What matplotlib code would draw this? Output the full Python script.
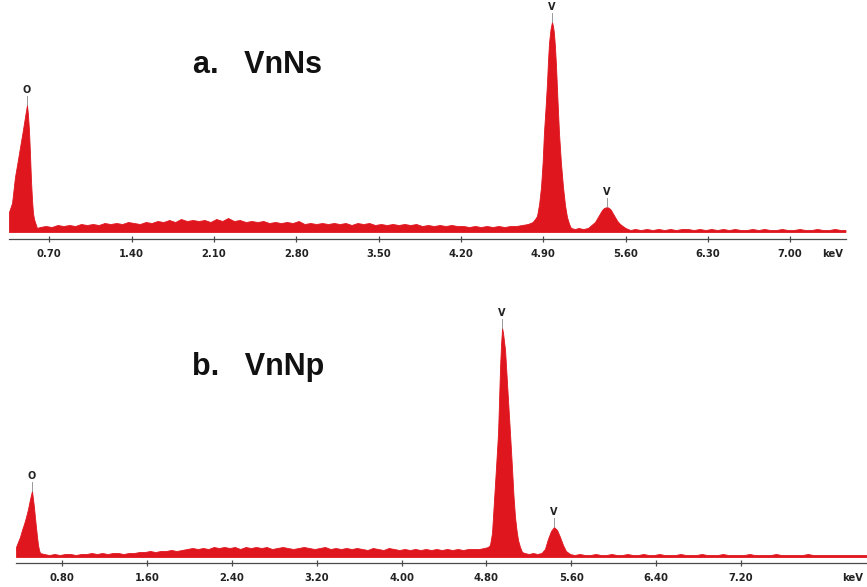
import matplotlib
matplotlib.use("Agg")
import matplotlib.pyplot as plt
from matplotlib import font_manager

# ---------------- spectrum data (energy in keV, counts) ----------------
vnns_energy = [
    0.357, 0.383, 0.408, 0.43, 0.451, 0.47, 0.485, 0.50, 0.510, 0.518, 0.527, 0.535,
    0.544, 0.553, 0.561, 0.570, 0.578, 0.595,
    0.62, 0.67, 0.72, 0.77, 0.82, 0.87, 0.92, 0.97, 1.02, 1.07, 1.12, 1.17, 1.22, 1.27,
    1.32, 1.37, 1.42, 1.47, 1.52, 1.57, 1.62, 1.67, 1.72, 1.77, 1.82, 1.87, 1.92, 1.97,
    2.02, 2.07, 2.12, 2.17, 2.22, 2.27, 2.32, 2.37, 2.42, 2.47, 2.52, 2.57, 2.62, 2.67,
    2.72, 2.77, 2.82, 2.87, 2.92, 2.97, 3.02, 3.07, 3.12, 3.17, 3.22, 3.27, 3.32, 3.37,
    3.42, 3.47, 3.52, 3.57, 3.62, 3.67, 3.72, 3.77, 3.82, 3.87, 3.92, 3.97, 4.02, 4.07,
    4.12, 4.17, 4.22, 4.27, 4.32, 4.37, 4.42, 4.47, 4.52, 4.57, 4.62, 4.67, 4.72, 4.77,
    4.81, 4.83, 4.847, 4.865, 4.881, 4.895, 4.906, 4.92, 4.932, 4.94, 4.949, 4.962,
    4.974, 4.983, 4.991, 5.00, 5.009, 5.02, 5.034, 5.05, 5.068, 5.085, 5.102, 5.12,
    5.136, 5.17, 5.20, 5.24, 5.28,
    5.31, 5.34, 5.36, 5.38, 5.40, 5.417, 5.442, 5.46, 5.476, 5.49, 5.51, 5.53, 5.553,
    5.575, 5.60, 5.62, 5.64,
    5.68, 5.73, 5.78, 5.83, 5.88, 5.93, 5.98, 6.03, 6.08, 6.13, 6.18, 6.23, 6.28, 6.33,
    6.38, 6.43, 6.48, 6.53, 6.58, 6.63, 6.68, 6.73, 6.78, 6.83, 6.88, 6.93, 6.98, 7.03,
    7.08, 7.13, 7.18, 7.23, 7.28, 7.33, 7.38, 7.43, 7.47,
]
vnns_counts = [
    20, 29, 55, 70, 85, 98, 109, 120, 127, 118, 102, 80,
    52, 32, 19, 13, 10, 4,
    5, 6, 5, 7, 6, 7, 6, 8, 7, 8, 7, 9, 8, 9,
    8, 10, 9, 8, 10, 9, 11, 10, 12, 10, 13, 11, 12, 11,
    12, 10, 13, 11, 14, 11, 12, 10, 11, 10, 11, 9, 10, 9,
    10, 9, 11, 8, 9, 8, 9, 8, 9, 8, 9, 7, 9, 8,
    9, 7, 8, 7, 8, 7, 8, 7, 8, 6, 7, 6, 7, 6,
    7, 6, 6, 5, 6, 5, 6, 5, 6, 5, 6, 6, 7, 8,
    10, 13, 16, 28, 45, 70, 99, 125, 149, 170, 189, 203,
    210, 206, 199, 185, 165, 135, 99, 70, 45, 27, 15, 8,
    4, 3, 4, 3, 4,
    7, 10, 14, 18, 22, 24, 25, 24, 22, 19, 15, 11, 8,
    6, 4, 3, 2,
    3, 2, 3, 2, 3, 2, 3, 2, 3, 3, 2, 3, 2, 3,
    2, 3, 2, 3, 2, 2, 3, 2, 3, 2, 2, 3, 2, 2,
    3, 2, 2, 3, 2, 2, 3, 2, 2,
]

vnnp_energy = [
    0.367, 0.385, 0.404, 0.423, 0.442, 0.461, 0.480, 0.499, 0.517, 0.527, 0.536, 0.545,
    0.555, 0.564, 0.574, 0.584, 0.593,
    0.63, 0.68, 0.73, 0.78, 0.83, 0.88, 0.93, 0.98, 1.03, 1.08, 1.13, 1.18, 1.23, 1.28,
    1.33, 1.38, 1.43, 1.48, 1.53, 1.58, 1.63, 1.68, 1.73, 1.78, 1.83, 1.88, 1.93, 1.98,
    2.03, 2.08, 2.13, 2.18, 2.23, 2.28, 2.33, 2.38, 2.43, 2.48, 2.53, 2.58, 2.63, 2.68,
    2.73, 2.78, 2.83, 2.88, 2.93, 2.98, 3.03, 3.08, 3.13, 3.18, 3.23, 3.28, 3.33, 3.38,
    3.43, 3.48, 3.53, 3.58, 3.63, 3.68, 3.73, 3.78, 3.83, 3.88, 3.93, 3.98, 4.03, 4.08,
    4.13, 4.18, 4.23, 4.28, 4.33, 4.38, 4.43, 4.48, 4.53, 4.58, 4.63, 4.68, 4.73, 4.78,
    4.815, 4.834, 4.853, 4.872, 4.891, 4.91, 4.919, 4.929, 4.938, 4.948, 4.957, 4.966,
    4.976, 4.99, 5.004, 5.022, 5.041, 5.055, 5.070, 5.084, 5.098, 5.117, 5.136, 5.16,
    5.20, 5.24, 5.28, 5.32,
    5.352, 5.38, 5.409, 5.437, 5.466, 5.494, 5.522, 5.55, 5.588,
    5.63, 5.68, 5.73, 5.78, 5.83, 5.88, 5.93, 5.98, 6.03, 6.08, 6.13, 6.18, 6.23, 6.28,
    6.33, 6.38, 6.43, 6.48, 6.53, 6.58, 6.63, 6.68, 6.73, 6.78, 6.83, 6.88, 6.93, 6.98,
    7.03, 7.08, 7.13, 7.18, 7.23, 7.28, 7.33, 7.38, 7.43, 7.48, 7.53, 7.58, 7.63, 7.68,
    7.73, 7.78, 7.83, 7.88, 7.93, 7.98, 8.03, 8.08, 8.13, 8.18, 8.23, 8.28, 8.33, 8.38,
]
vnnp_counts = [
    10, 15, 20, 27, 33, 40, 48, 58, 66, 58, 50, 40,
    30, 21, 12, 7, 4,
    3, 2, 3, 2, 3, 3, 2, 3, 3, 4, 3, 4, 3, 4,
    4, 3, 4, 4, 5, 5, 6, 5, 6, 6, 7, 6, 7, 8,
    9, 8, 9, 8, 10, 9, 10, 9, 10, 8, 10, 9, 10, 9,
    10, 8, 9, 10, 9, 8, 9, 10, 9, 8, 9, 10, 8, 9,
    8, 9, 8, 9, 8, 7, 9, 8, 7, 9, 8, 7, 8, 7,
    8, 7, 8, 7, 8, 7, 8, 7, 8, 7, 8, 8, 8, 9,
    10, 12, 24, 57, 90, 124, 155, 190, 212, 229, 224, 216,
    207, 182, 157, 125, 90, 62, 40, 27, 17, 10, 5, 4,
    3, 4, 3, 4,
    8, 18, 26, 30, 27, 20, 12, 6, 3,
    2, 3, 2, 2, 3, 2, 2, 3, 2, 2, 3, 2, 2, 3,
    2, 2, 3, 2, 2, 2, 3, 2, 2, 2, 3, 2, 2, 2,
    3, 2, 2, 2, 2, 3, 2, 2, 2, 2, 3, 2, 2, 2,
    2, 2, 3, 2, 2, 2, 2, 2, 2, 2, 2, 2, 2, 2,
]

# tick positions / labels (keV)
vnns_ticks = [0.70, 1.40, 2.10, 2.80, 3.50, 4.20, 4.90, 5.60, 6.30, 7.00]
vnnp_ticks = [0.80, 1.60, 2.40, 3.20, 4.00, 4.80, 5.60, 6.40, 7.20]

# element markers: (label, energy, peak counts)
vnns_lines = [("O", 0.510, 127), ("V", 4.974, 210), ("V", 5.442, 25)]
vnnp_lines = [("O", 0.517, 66), ("V", 4.948, 229), ("V", 5.437, 30)]

panel_titles = ["a.   VnNs", "b.   VnNp"]

# ---------------- style ----------------
RED = "#e0161f"
AXIS = "#4a4a4a"
TICK_LEN = 4.5   # pt
TICK_PAD = 4.8   # pt


def narrow_bold_font():
    """Prefer a condensed/narrow bold face for the small axis numbers."""
    for f in font_manager.fontManager.ttflist:
        n = (f.name + " " + f.fname).lower()
        if ("narrow" in n or "condensed" in n) and f.weight in ("bold", 700):
            return font_manager.FontProperties(fname=f.fname)
    return font_manager.FontProperties(family="Roboto", weight="bold")


def pick_font(cands):
    for c in cands:
        try:
            font_manager.findfont(font_manager.FontProperties(family=c),
                                  fallback_to_default=False)
            return c
        except Exception:
            continue
    return "DejaVu Sans"


tick_fp = narrow_bold_font()
tick_fp.set_size(8)
title_font = pick_font(["Liberation Sans", "DejaVu Sans"])

W, H = 867, 587
fig = plt.figure(figsize=(W / 100, H / 100), dpi=100)


def add_panel(top_px, zero_px, xlim, bounds, energy, counts, ticks, lines,
              offset_px, keV_x):
    ax = fig.add_axes([0, (H - zero_px) / H, 1, (zero_px - top_px) / H])
    ax.set_xlim(*xlim)
    ax.set_ylim(0, zero_px - top_px)
    ax.fill_between(energy, 0, counts, color=RED, lw=0.6, edgecolor=RED)
    for s in ("top", "left", "right"):
        ax.spines[s].set_visible(False)
    sp = ax.spines["bottom"]
    sp.set_position(("outward", offset_px * 0.72))
    sp.set_bounds(*bounds)
    sp.set_color(AXIS)
    sp.set_linewidth(0.9)
    ax.set_yticks([])
    ax.set_xticks(ticks)
    ax.set_xticklabels([f"{t:.2f}" for t in ticks])
    ax.tick_params(axis="x", direction="inout", length=TICK_LEN, width=0.9,
                   color=AXIS, pad=TICK_PAD, labelcolor="#222222")
    for lab in ax.get_xticklabels():
        lab.set_fontproperties(tick_fp)
    for name, e, c in lines:
        ax.plot([e, e], [c, c + 9], color="#888888", lw=0.6)
        ax.text(e, c + 10, name, ha="center", va="bottom", fontsize=7,
                fontweight="bold", color="#222222", family="DejaVu Sans")
    # unit label sits on the tick-label row, right end of the axis
    y_lab = -(offset_px + (TICK_LEN / 2 + TICK_PAD) * 100 / 72)
    ax.text(keV_x, y_lab, "keV", ha="center", va="top",
            color="#222222", fontproperties=tick_fp)
    ax.patch.set_alpha(0)
    return ax


ax_a = add_panel(10, 232, (33 / 117.6, 900 / 117.6), (0.357, 7.474),
                 vnns_energy, vnns_counts, vnns_ticks, vnns_lines, 7, 7.36)
ax_b = add_panel(290, 557, (22.9 / 106.1, 889.9 / 106.1), (0.367, 8.39),
                 vnnp_energy, vnnp_counts, vnnp_ticks, vnnp_lines, 6, 8.255)

fig.text(193 / W, 1 - 73 / H, panel_titles[0], ha="left", va="baseline",
         fontsize=22, fontweight="bold", family=title_font, color="#111111")
fig.text(192 / W, 1 - 375 / H, panel_titles[1], ha="left", va="baseline",
         fontsize=22, fontweight="bold", family=title_font, color="#111111")

fig.savefig("out.png", dpi=100, facecolor="white")
